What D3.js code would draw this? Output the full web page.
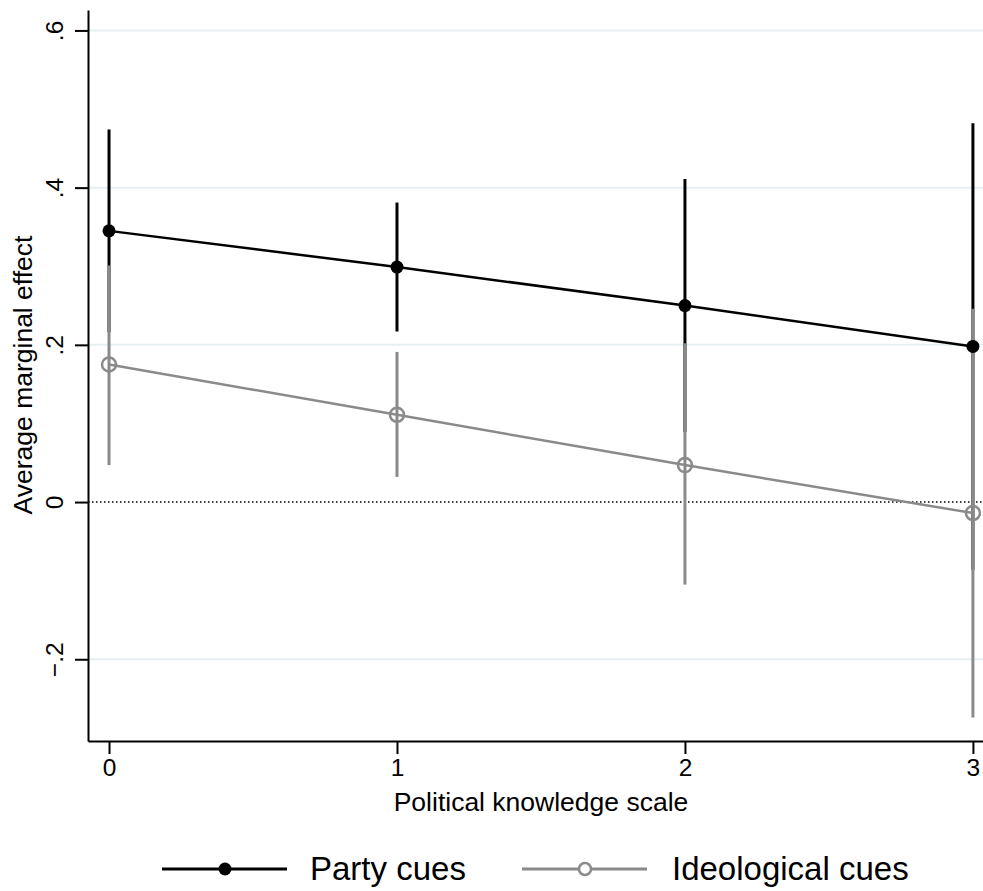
<!DOCTYPE html>
<html>
<head>
<meta charset="utf-8">
<script src="https://cdn.jsdelivr.net/npm/d3@7"></script>
<style>
  body { margin: 0; background: #fff; }
  text { font-family: "Liberation Sans", Arial, sans-serif; fill: #000; }
</style>
</head>
<body>
<div id="chart"></div>
<script>
// knowledge levels
const niveles = [0, 1, 2, 3];
// party cues: estimate and 95% CI
const partido = [0.345, 0.299, 0.250, 0.198];
const partidoLo = [0.216, 0.217, 0.089, -0.086];
const partidoHi = [0.474, 0.381, 0.411, 0.482];
// ideological cues
const ideologia = [0.175, 0.111, 0.047, -0.014];
const ideologiaLo = [0.047, 0.032, -0.105, -0.274];
const ideologiaHi = [0.301, 0.191, 0.202, 0.246];
const yTicks = [-0.2, 0, 0.2, 0.4, 0.6];
const series = ["Party cues", "Ideological cues"];

const ancho = 983, alto = 891;
const margen = { left: 88, right: 0, top: 10, bottom: 150 };

const svg = d3.select("#chart").append("svg")
    .attr("width", ancho)
    .attr("height", alto);

const x = d3.scaleLinear().domain([-0.073, 3.035]).range([margen.left, ancho - margen.right]);
const y = d3.scaleLinear().domain([-0.304, 0.626]).range([alto - margen.bottom, margen.top]);

const gris = "#8a8a8a";

// gridlines
svg.append("g").selectAll("line")
    .data(yTicks.filter(d => d !== 0))
    .join("line")
    .attr("x1", margen.left).attr("x2", ancho)
    .attr("y1", d => y(d)).attr("y2", d => y(d))
    .attr("stroke", "#e6eff1")
    .attr("stroke-width", 2);

// zero reference
svg.append("line")
    .attr("x1", margen.left).attr("x2", ancho)
    .attr("y1", y(0)).attr("y2", y(0))
    .attr("stroke", "#000")
    .attr("stroke-width", 1.5)
    .attr("stroke-dasharray", "1.5,2.5");

// axes
const ejeY = svg.append("g")
    .attr("transform", `translate(${margen.left},0)`)
    .call(d3.axisLeft(y).tickValues(yTicks).tickSize(13).tickSizeOuter(0)
        .tickFormat(d => d === 0 ? "0" : d3.format(".1f")(d).replace("0.", ".")));
ejeY.select(".domain").attr("stroke-width", 2);
ejeY.selectAll(".tick line").attr("stroke-width", 2);
ejeY.selectAll(".tick text")
    .attr("font-size", 24.5)
    .attr("text-anchor", "middle")
    .attr("x", 0).attr("dy", 0)
    .attr("transform", "translate(-25,0) rotate(-90)");

const ejeX = svg.append("g")
    .attr("transform", `translate(0,${alto - margen.bottom})`)
    .call(d3.axisBottom(x).tickValues(niveles).tickSize(13).tickSizeOuter(0).tickFormat(d3.format("d")));
ejeX.select(".domain").attr("stroke-width", 2);
ejeX.selectAll(".tick line").attr("stroke-width", 2);
ejeX.selectAll(".tick text").attr("font-size", 24.5).attr("y", 18);

// axis titles
svg.append("text")
    .attr("x", 541).attr("y", 811)
    .attr("text-anchor", "middle")
    .attr("font-size", 26.5)
    .text("Political knowledge scale");

svg.append("text")
    .attr("transform", "translate(32,375) rotate(-90)")
    .attr("text-anchor", "middle")
    .attr("font-size", 26.5)
    .text("Average marginal effect");

// confidence intervals
svg.append("g").selectAll("line")
    .data(niveles)
    .join("line")
    .attr("x1", d => x(d)).attr("x2", d => x(d))
    .attr("y1", (d, i) => y(partidoLo[i])).attr("y2", (d, i) => y(partidoHi[i]))
    .attr("stroke", "#000")
    .attr("stroke-width", 3);

svg.append("g").selectAll("line")
    .data(niveles)
    .join("line")
    .attr("x1", d => x(d)).attr("x2", d => x(d))
    .attr("y1", (d, i) => y(ideologiaLo[i])).attr("y2", (d, i) => y(ideologiaHi[i]))
    .attr("stroke", gris)
    .attr("stroke-width", 3);

// connecting lines
const linea = d3.line().x((d, i) => x(niveles[i])).y(d => y(d));

svg.append("path")
    .datum(partido)
    .attr("d", linea)
    .attr("fill", "none")
    .attr("stroke", "#000")
    .attr("stroke-width", 2.5);

svg.append("path")
    .datum(ideologia)
    .attr("d", linea)
    .attr("fill", "none")
    .attr("stroke", gris)
    .attr("stroke-width", 2.5);

// markers
svg.append("g").selectAll("circle")
    .data(partido)
    .join("circle")
    .attr("cx", (d, i) => x(niveles[i])).attr("cy", d => y(d))
    .attr("r", 6.5)
    .attr("fill", "#000");

svg.append("g").selectAll("circle")
    .data(ideologia)
    .join("circle")
    .attr("cx", (d, i) => x(niveles[i])).attr("cy", d => y(d))
    .attr("r", 7)
    .attr("fill", "none")
    .attr("stroke", gris)
    .attr("stroke-width", 2.5);

// legend
const leyenda = svg.append("g").attr("transform", "translate(0,869)");
const items = [
    { nombre: series[0], x0: 162, color: "#000", lleno: true, tx: 310 },
    { nombre: series[1], x0: 522, color: gris, lleno: false, tx: 672 }
];
items.forEach(it => {
    leyenda.append("line")
        .attr("x1", it.x0).attr("x2", it.x0 + 125)
        .attr("y1", 0).attr("y2", 0)
        .attr("stroke", it.color)
        .attr("stroke-width", 3);
    leyenda.append("circle")
        .attr("cx", it.x0 + 63).attr("cy", 0)
        .attr("r", it.lleno ? 6.5 : 6)
        .attr("fill", it.lleno ? it.color : "#fff")
        .attr("stroke", it.color)
        .attr("stroke-width", it.lleno ? 0 : 2.5);
    leyenda.append("text")
        .attr("x", it.tx).attr("y", 11)
        .attr("font-size", 33)
        .text(it.nombre);
});
</script>
</body>
</html>
